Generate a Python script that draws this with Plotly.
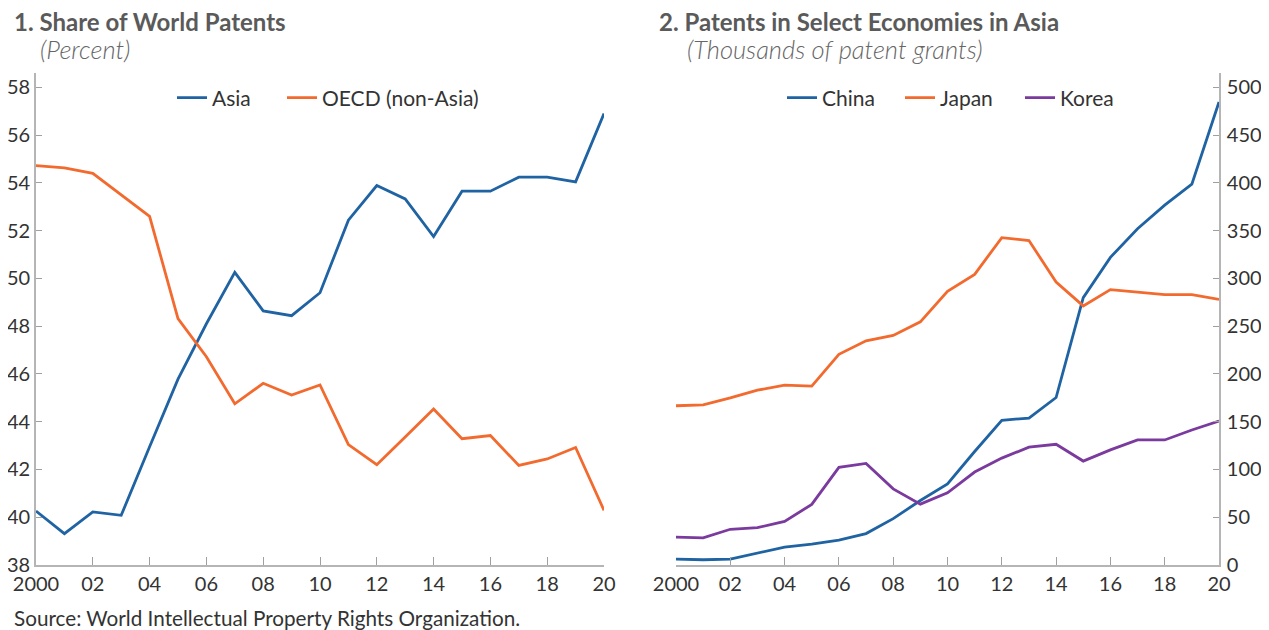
import plotly.graph_objects as go

years = list(range(2000, 2021))
asia = [40.26, 39.31, 40.22, 40.08, 42.95, 45.78, 48.1, 50.25, 48.64, 48.44, 49.4,
        52.44, 53.89, 53.33, 51.75, 53.65, 53.65, 54.24, 54.24, 54.04, 56.9]
oecd = [54.72, 54.63, 54.4, 53.49, 52.6, 48.32, 46.72, 44.75, 45.61, 45.12, 45.54,
        43.04, 42.2, 43.36, 44.53, 43.29, 43.42, 42.17, 42.44, 42.92, 40.29]
china = [6.2, 5.5, 6.2, 12.5, 18.7, 21.8, 26.0, 32.9, 48.5, 67.5, 84.9,
         118.8, 151.5, 153.8, 175.3, 279.8, 322.0, 352.0, 376.7, 398.6, 484.7]
japan = [166.7, 167.7, 175.0, 183.0, 188.2, 187.2, 220.5, 234.7, 240.3, 254.5, 286.5,
         304.2, 342.7, 339.6, 296.2, 271.2, 288.3, 285.4, 283.0, 283.0, 278.1]
korea = [29.1, 28.4, 37.4, 39.1, 45.7, 63.4, 102.2, 106.3, 79.7, 63.7, 75.5,
         97.3, 111.9, 123.3, 126.4, 108.8, 120.5, 130.9, 130.9, 141.3, 150.7]

xtickvals = list(range(2000, 2021, 2))
xticktext = ["2000", "02", "04", "06", "08", "10", "12", "14", "16", "18", "20"]
left_ticks = list(range(38, 59, 2))
right_ticks = list(range(0, 501, 50))

BLUE = "#1f63a3"
ORANGE = "#f26a2e"
PURPLE = "#7a3a9e"
FONT = "Lato"

# page has an 8px body margin; work in reference-page pixels and subtract it
OFF = 8
W, H = 1269 - OFF, 630 - OFF
TOP, BOT = 73 - OFF, 565 - OFF


def fx(p):
    return (p - OFF) / W


def fy(p):
    return (BOT - (p - OFF)) / (BOT - TOP)


fig = go.Figure()
series = [
    ("Asia", years, asia, BLUE, "x", "y", "legend"),
    ("OECD (non-Asia)", years, oecd, ORANGE, "x", "y", "legend3"),
    ("China", years, china, BLUE, "x2", "y2", "legend2"),
    ("Japan", years, japan, ORANGE, "x2", "y2", "legend4"),
    ("Korea", years, korea, PURPLE, "x2", "y2", "legend5"),
]
for name, xs, ys, col, xa, ya, lg in series:
    fig.add_trace(go.Scatter(x=xs, y=ys, name=name, mode="lines",
                             line=dict(color=col, width=2.8), xaxis=xa, yaxis=ya, legend=lg))

axis_line = "#b5b5b5"
tick_col = "#a0a0a0"
tickfont = dict(family=FONT, size=20, color="#333333")

xcommon = dict(range=[2000, 2020], tickvals=xtickvals, ticktext=xticktext,
               ticks="inside", ticklen=8, tickwidth=1.2, tickcolor=tick_col,
               showline=True, linecolor=axis_line, linewidth=1.6, automargin=False,
               showgrid=False, zeroline=False, tickfont=tickfont)
ycommon = dict(ticks="inside", ticklen=6, tickwidth=1.2, tickcolor=tick_col,
               showgrid=False, zeroline=False, automargin=False)

dom1 = [fx(36), fx(604)]
dom2 = [fx(676), fx(1219)]

leg_font = dict(family=FONT, size=21, color="#333333")
LEG_Y = fy(98)


def leg(text_x):
    # legend text starts about 41 px right of the legend's left edge
    return dict(orientation="h", x=fx(text_x - 40), y=LEG_Y, xanchor="left", yanchor="middle",
                font=leg_font, bgcolor="rgba(0,0,0,0)")


fig.update_layout(
    width=W, height=H,
    margin=dict(l=0, r=0, t=TOP, b=H - BOT, autoexpand=False),
    paper_bgcolor="white", plot_bgcolor="white",
    font=dict(family=FONT, color="#333333"),
    xaxis=dict(domain=dom1, anchor="y", **xcommon),
    xaxis2=dict(domain=dom2, anchor="y2", **xcommon),
    yaxis=dict(range=[38, 58.6], tickvals=left_ticks, anchor="x", side="left",
               showline=True, linecolor=axis_line, linewidth=1.6, tickfont=tickfont, **ycommon),
    yaxis3=dict(range=[38, 58.6], tickvals=left_ticks, anchor="x", overlaying="y", side="right",
                showline=False, showticklabels=False, **ycommon),
    yaxis2=dict(range=[0, 515], tickvals=right_ticks, anchor="x2", side="right",
                showline=True, linecolor=axis_line, linewidth=1.6, tickfont=tickfont,
                ticklabelstandoff=2, **ycommon),
    yaxis4=dict(range=[0, 515], tickvals=right_ticks, anchor="x2", overlaying="y2", side="left",
                showline=False, showticklabels=False, **ycommon),
    legend=leg(212),
    legend3=leg(322),
    legend2=leg(822),
    legend4=leg(940),
    legend5=leg(1060),
    showlegend=True,
)

annots = [
    dict(text="<b>1. Share of World Patents</b>", x=12, y=22, size=24, color="#5a5a5a", weight=None),
    dict(text="<i>(Percent)</i>", x=38, y=49, size=25.5, color="#666666", weight=300),
    dict(text="<b>2. Patents in Select Economies in Asia</b>", x=657, y=22, size=24, color="#5a5a5a", weight=None),
    dict(text="<i>(Thousands of patent grants)</i>", x=685, y=49, size=25.5, color="#666666", weight=300),
    dict(text="Source: World Intellectual Property Rights Organization.", x=12, y=618, size=20.7, color="#333333", weight=None),
]
for a in annots:
    f = dict(family=FONT, size=a["size"], color=a["color"])
    if a["weight"]:
        f["weight"] = a["weight"]
    fig.add_annotation(text=a["text"], x=fx(a["x"]), y=fy(a["y"]), xref="paper", yref="paper",
                       xanchor="left", yanchor="middle", showarrow=False, font=f)

fig.write_html("out.html")
